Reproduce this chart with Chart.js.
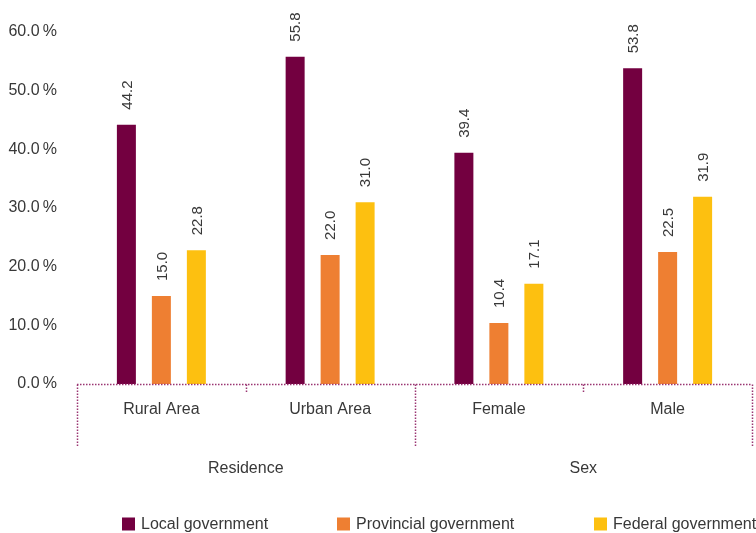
<!DOCTYPE html>
<html>
<head>
<meta charset="utf-8">
<script src="https://cdn.jsdelivr.net/npm/chart.js@4/dist/chart.umd.min.js"></script>
<style>
  html, body { margin: 0; padding: 0; background: #fff; }
</style>
</head>
<body>
<canvas id="chart" width="756" height="533"></canvas>
<script>
// ---------- data ----------
const CATEGORIES = ["Rural Area", "Urban Area", "Female", "Male"];
const GROUPS = ["Residence", "Sex"];          // each group spans two categories
const SERIES_NAMES = ["Local government", "Provincial government", "Federal government"];
const LOCAL = [44.2, 55.8, 39.4, 53.8];
const PROVINCIAL = [15.0, 22.0, 10.4, 22.5];
const FEDERAL = [22.8, 31.0, 17.1, 31.9];
const Y_TICKS = [0, 10, 20, 30, 40, 50, 60];

const COLORS = ["#730040", "#ee7f32", "#fdc010"];
const TEXT = "#383838";
const DOTS = "#9a3572";
const FONT = "'Liberation Sans', Arial, sans-serif";

// ---------- extra drawing: dotted axis, group labels, value labels, legend ----------
const decorPlugin = {
    id: "decor",
    afterDraw(chart) {
        const ctx = chart.ctx;
        const area = chart.chartArea;
        const x = chart.scales.x;
        const base = Math.round(area.bottom) + 0.5;

        // dotted baseline + category separators
        ctx.save();
        ctx.strokeStyle = DOTS;
        ctx.lineWidth = 1.5;
        ctx.setLineDash([1.5, 1.5]);
        ctx.beginPath();
        ctx.moveTo(area.left, base);
        ctx.lineTo(area.right, base);
        const edges = [area.left];
        for (let i = 0; i < CATEGORIES.length - 1; i++) {
            edges.push((x.getPixelForValue(i) + x.getPixelForValue(i + 1)) / 2);
        }
        edges.push(area.right);
        edges.forEach((ex, i) => {
            const px = Math.round(ex) + 0.5;
            ctx.moveTo(px, base);
            ctx.lineTo(px, i % 2 === 0 ? base + 63 : base + 9);
        });
        ctx.stroke();
        ctx.restore();

        // group labels
        ctx.save();
        ctx.fillStyle = TEXT;
        ctx.font = "16px " + FONT;
        ctx.textAlign = "center";
        ctx.textBaseline = "middle";
        GROUPS.forEach((g, i) => {
            const cx = (edges[i * 2] + edges[i * 2 + 2]) / 2;
            ctx.fillText(g, cx, base + 84);
        });
        ctx.restore();

        // rotated value labels
        ctx.save();
        ctx.fillStyle = TEXT;
        ctx.font = "15px " + FONT;
        ctx.textAlign = "left";
        ctx.textBaseline = "middle";
        chart.data.datasets.forEach((ds, di) => {
            chart.getDatasetMeta(di).data.forEach((bar, i) => {
                ctx.save();
                ctx.translate(bar.x + 1, bar.y - 15);
                ctx.rotate(-Math.PI / 2);
                ctx.fillText(ds.data[i].toFixed(1), 0, 0);
                ctx.restore();
            });
        });
        ctx.restore();

        // legend
        const legendX = [122, 337, 594];
        const legendY = 524;
        ctx.save();
        ctx.font = "16px " + FONT;
        ctx.textBaseline = "middle";
        ctx.textAlign = "left";
        chart.data.datasets.forEach((ds, di) => {
            ctx.fillStyle = ds.backgroundColor;
            ctx.fillRect(legendX[di], legendY - 6.5, 13, 13);
            ctx.fillStyle = TEXT;
            ctx.fillText(ds.label, legendX[di] + 19, legendY + 1);
        });
        ctx.restore();
    }
};

// ---------- chart ----------
const ctx = document.getElementById("chart").getContext("2d");

const seriesValues = [LOCAL, PROVINCIAL, FEDERAL];

let chart = new Chart(ctx, {
    type: "bar",
    data: {
        labels: CATEGORIES,
        datasets: SERIES_NAMES.map((name, i) => ({
            label: name,
            data: seriesValues[i],
            backgroundColor: COLORS[i],
            borderWidth: 0,
            categoryPercentage: 0.622,
            barPercentage: 0.543
        }))
    },
    options: {
        responsive: false,
        animation: false,
        layout: { padding: { top: 32, right: 4, bottom: 0, left: 0 } },
        plugins: {
            legend: { display: false },
            tooltip: { enabled: false }
        },
        scales: {
            x: {
                grid: { display: false, drawTicks: false },
                border: { display: false },
                ticks: {
                    color: TEXT,
                    padding: 16,
                    maxRotation: 0,
                    font: { size: 16, family: FONT }
                },
                afterFit: (scale) => { scale.height = 149; }
            },
            y: {
                min: 0,
                max: 60,
                grid: { display: false, drawTicks: false },
                border: { display: false },
                afterBuildTicks: (scale) => {
                    scale.ticks = Y_TICKS.map((v) => ({ value: v }));
                },
                ticks: {
                    color: TEXT,
                    padding: 20,
                    font: { size: 16, family: FONT },
                    callback: (v) => v.toFixed(1) + "\u2009%"
                },
                afterFit: (scale) => { scale.width = 77; }
            }
        }
    },
    plugins: [decorPlugin]
});
</script>
</body>
</html>
